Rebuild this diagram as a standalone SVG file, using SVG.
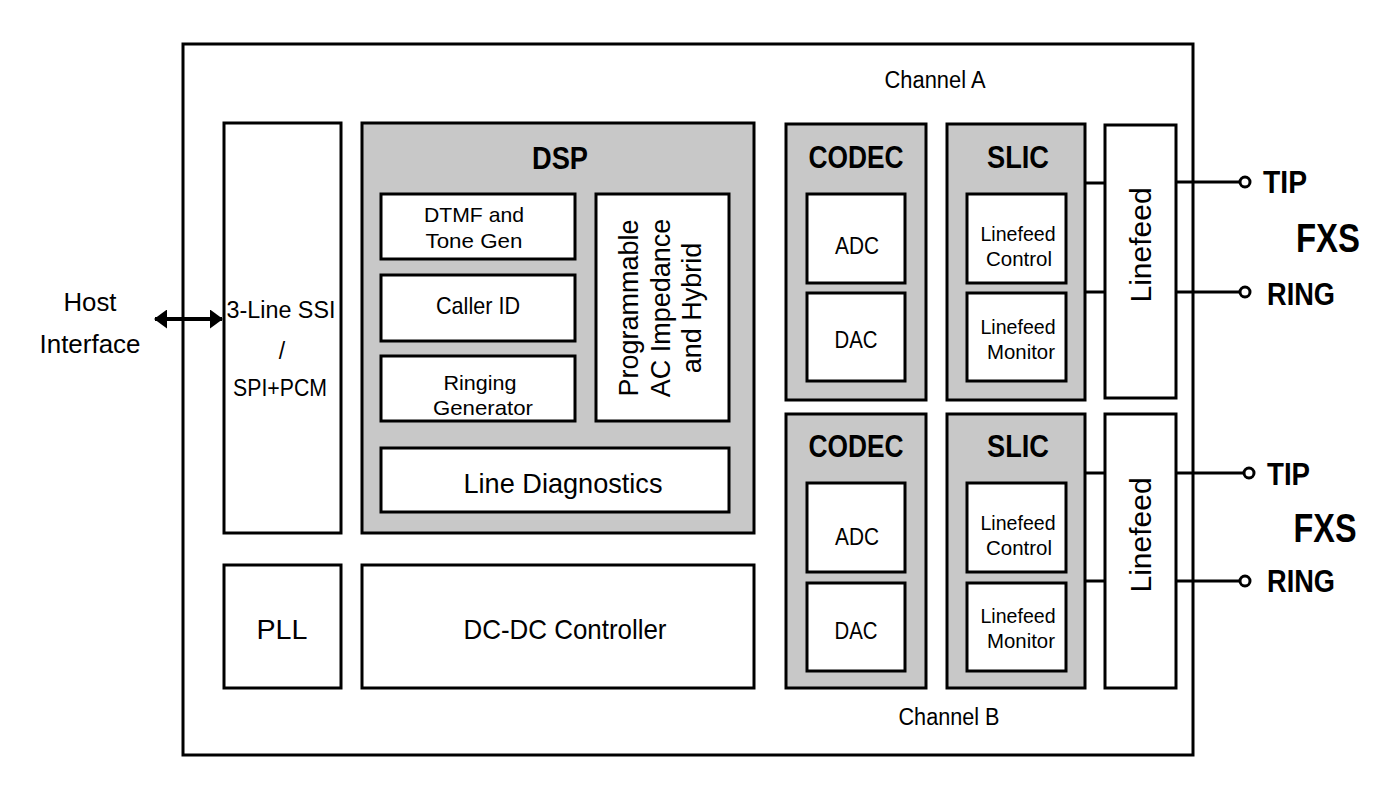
<svg xmlns="http://www.w3.org/2000/svg" width="1400" height="800" viewBox="0 0 1400 800">
<style>
.box{fill:#fff;stroke:#000;stroke-width:3}
.gray{fill:#c8c8c8;stroke:#000;stroke-width:3}
.wire{stroke:#000;stroke-width:3;fill:none}
.arrow{stroke:#000;stroke-width:4;fill:none}
text{font-family:"Liberation Sans","DejaVu Sans",sans-serif;fill:#000;text-anchor:middle;dominant-baseline:central}
.s21{font-size:21px}
.s23{font-size:23px}
.s24{font-size:24px}
.s25{font-size:25.5px}
.s28{font-size:28px}
.title{font-size:32px;font-weight:bold}
.port{font-size:32px;font-weight:bold;text-anchor:start}
.fxs{font-size:40px;font-weight:bold}
.rot{font-size:27px}
.lf{font-size:30px}
</style>
<defs>
<marker id="ah" viewBox="0 0 13 19" refX="12" refY="9.5" markerWidth="13" markerHeight="19" markerUnits="userSpaceOnUse" orient="auto-start-reverse">
<path d="M0,0 L13,9.5 L0,19 z" fill="#000"/>
</marker>
</defs>
<rect id="chip" x="183" y="44" width="1010" height="711" class="box"/>
<text x="935" y="80" class="s23" textLength="101" lengthAdjust="spacingAndGlyphs">Channel A</text>
<text x="949" y="717" class="s23" textLength="101" lengthAdjust="spacingAndGlyphs">Channel B</text>
<g id="host"><text x="90" y="302" class="s25" textLength="53" lengthAdjust="spacingAndGlyphs">Host</text><text x="90" y="344" class="s25" textLength="101" lengthAdjust="spacingAndGlyphs">Interface</text></g>
<g id="ssi"><rect x="224" y="123" width="117" height="410" class="box"/>
<text x="281" y="310" class="s23" textLength="109" lengthAdjust="spacingAndGlyphs">3-Line SSI</text><text x="282" y="351" class="s23">/</text><text x="280" y="388" class="s23" textLength="94" lengthAdjust="spacingAndGlyphs">SPI+PCM</text></g>
<g id="dsp"><rect x="362" y="123" width="392" height="410" class="gray"/>
<text x="560" y="158" class="title" textLength="56" lengthAdjust="spacingAndGlyphs">DSP</text></g>
<g id="dtmf"><rect x="381" y="194" width="194" height="65" class="box"/>
<text x="474" y="214" class="s21" textLength="100" lengthAdjust="spacingAndGlyphs">DTMF and</text><text x="474" y="240" class="s21" textLength="97" lengthAdjust="spacingAndGlyphs">Tone Gen</text></g>
<g id="callerid"><rect x="381" y="275" width="194" height="66" class="box"/>
<text x="478" y="305" class="s24" textLength="84" lengthAdjust="spacingAndGlyphs">Caller ID</text></g>
<g id="ringing"><rect x="381" y="356" width="194" height="65" class="box"/>
<text x="480" y="382" class="s21" textLength="73" lengthAdjust="spacingAndGlyphs">Ringing</text><text x="483" y="407" class="s21" textLength="100" lengthAdjust="spacingAndGlyphs">Generator</text></g>
<g id="prog"><rect x="596" y="194" width="133" height="227" class="box"/>
<g transform="translate(661,308) rotate(-90)">
<text x="0" y="-32" class="rot">Programmable</text><text x="0" y="0" class="rot">AC Impedance</text><text x="0" y="31" class="rot">and Hybrid</text></g></g>
<g id="diag"><rect x="381" y="448" width="348" height="64" class="box"/>
<text x="563" y="483" class="s28" textLength="199" lengthAdjust="spacingAndGlyphs">Line Diagnostics</text></g>
<g id="pll"><rect x="224" y="565" width="117" height="123" class="box"/>
<text x="282" y="629" class="s28" textLength="51" lengthAdjust="spacingAndGlyphs">PLL</text></g>
<g id="dcdc"><rect x="362" y="565" width="392" height="123" class="box"/>
<text x="565" y="629" class="s28" textLength="203" lengthAdjust="spacingAndGlyphs">DC-DC Controller</text></g>
<g id="codecA"><rect x="786" y="124" width="140" height="276" class="gray"/>
<text x="856" y="157" class="title" textLength="95" lengthAdjust="spacingAndGlyphs">CODEC</text>
<rect x="807" y="194" width="98" height="89" class="box"/><text x="857" y="245" class="s24" textLength="44" lengthAdjust="spacingAndGlyphs">ADC</text>
<rect x="807" y="293" width="98" height="88" class="box"/><text x="856" y="339" class="s24" textLength="43" lengthAdjust="spacingAndGlyphs">DAC</text></g>
<g id="slicA"><rect x="947" y="124" width="138" height="276" class="gray"/>
<text x="1018" y="157" class="title" textLength="62" lengthAdjust="spacingAndGlyphs">SLIC</text>
<rect x="967" y="194" width="99" height="89" class="box"/><text x="1018" y="233" class="s21" textLength="75" lengthAdjust="spacingAndGlyphs">Linefeed</text><text x="1019" y="258" class="s21" textLength="66" lengthAdjust="spacingAndGlyphs">Control</text>
<rect x="967" y="293" width="99" height="88" class="box"/><text x="1018" y="326" class="s21" textLength="75" lengthAdjust="spacingAndGlyphs">Linefeed</text><text x="1021" y="351" class="s21" textLength="68" lengthAdjust="spacingAndGlyphs">Monitor</text></g>
<g id="linefeedA"><rect x="1105" y="125" width="71" height="273" class="box"/>
<text transform="translate(1140,245) rotate(-90)" class="lf">Linefeed</text></g>
<g id="codecB"><rect x="786" y="414" width="140" height="274" class="gray"/>
<text x="856" y="446" class="title" textLength="95" lengthAdjust="spacingAndGlyphs">CODEC</text>
<rect x="807" y="483" width="98" height="89" class="box"/><text x="857" y="536" class="s24" textLength="44" lengthAdjust="spacingAndGlyphs">ADC</text>
<rect x="807" y="583" width="98" height="88" class="box"/><text x="856" y="630" class="s24" textLength="43" lengthAdjust="spacingAndGlyphs">DAC</text></g>
<g id="slicB"><rect x="947" y="414" width="138" height="274" class="gray"/>
<text x="1018" y="446" class="title" textLength="62" lengthAdjust="spacingAndGlyphs">SLIC</text>
<rect x="967" y="483" width="99" height="89" class="box"/><text x="1018" y="522" class="s21" textLength="75" lengthAdjust="spacingAndGlyphs">Linefeed</text><text x="1019" y="547" class="s21" textLength="66" lengthAdjust="spacingAndGlyphs">Control</text>
<rect x="967" y="583" width="99" height="88" class="box"/><text x="1018" y="615" class="s21" textLength="75" lengthAdjust="spacingAndGlyphs">Linefeed</text><text x="1021" y="640" class="s21" textLength="68" lengthAdjust="spacingAndGlyphs">Monitor</text></g>
<g id="linefeedB"><rect x="1105" y="414" width="71" height="274" class="box"/>
<text transform="translate(1140,535) rotate(-90)" class="lf">Linefeed</text></g>
<g id="ports">
<text x="1263" y="182" class="port" textLength="44" lengthAdjust="spacingAndGlyphs">TIP</text>
<text x="1267" y="294" class="port" textLength="68" lengthAdjust="spacingAndGlyphs">RING</text>
<text x="1328" y="238" class="fxs" textLength="64" lengthAdjust="spacingAndGlyphs">FXS</text>
<text x="1267" y="474" class="port" textLength="43" lengthAdjust="spacingAndGlyphs">TIP</text>
<text x="1267" y="581" class="port" textLength="68" lengthAdjust="spacingAndGlyphs">RING</text>
<text x="1325" y="528" class="fxs" textLength="63" lengthAdjust="spacingAndGlyphs">FXS</text>
</g>
<g id="connectors">
<line x1="155" y1="319" x2="222" y2="319" class="arrow" marker-start="url(#ah)" marker-end="url(#ah)"/>
<line x1="1085" y1="183" x2="1105" y2="183" class="wire"/>
<line x1="1085" y1="292" x2="1105" y2="292" class="wire"/>
<line x1="1176" y1="182" x2="1239" y2="182" class="wire"/>
<line x1="1176" y1="292" x2="1239" y2="292" class="wire"/>
<circle cx="1245" cy="182" r="5" fill="#fff" stroke="#000" stroke-width="3"/>
<circle cx="1245" cy="292" r="5" fill="#fff" stroke="#000" stroke-width="3"/>
<line x1="1085" y1="473" x2="1105" y2="473" class="wire"/>
<line x1="1085" y1="581" x2="1105" y2="581" class="wire"/>
<line x1="1176" y1="473" x2="1243" y2="473" class="wire"/>
<line x1="1176" y1="581" x2="1239" y2="581" class="wire"/>
<circle cx="1249" cy="473" r="5" fill="#fff" stroke="#000" stroke-width="3"/>
<circle cx="1245" cy="581" r="5" fill="#fff" stroke="#000" stroke-width="3"/>
</g>
</svg>
